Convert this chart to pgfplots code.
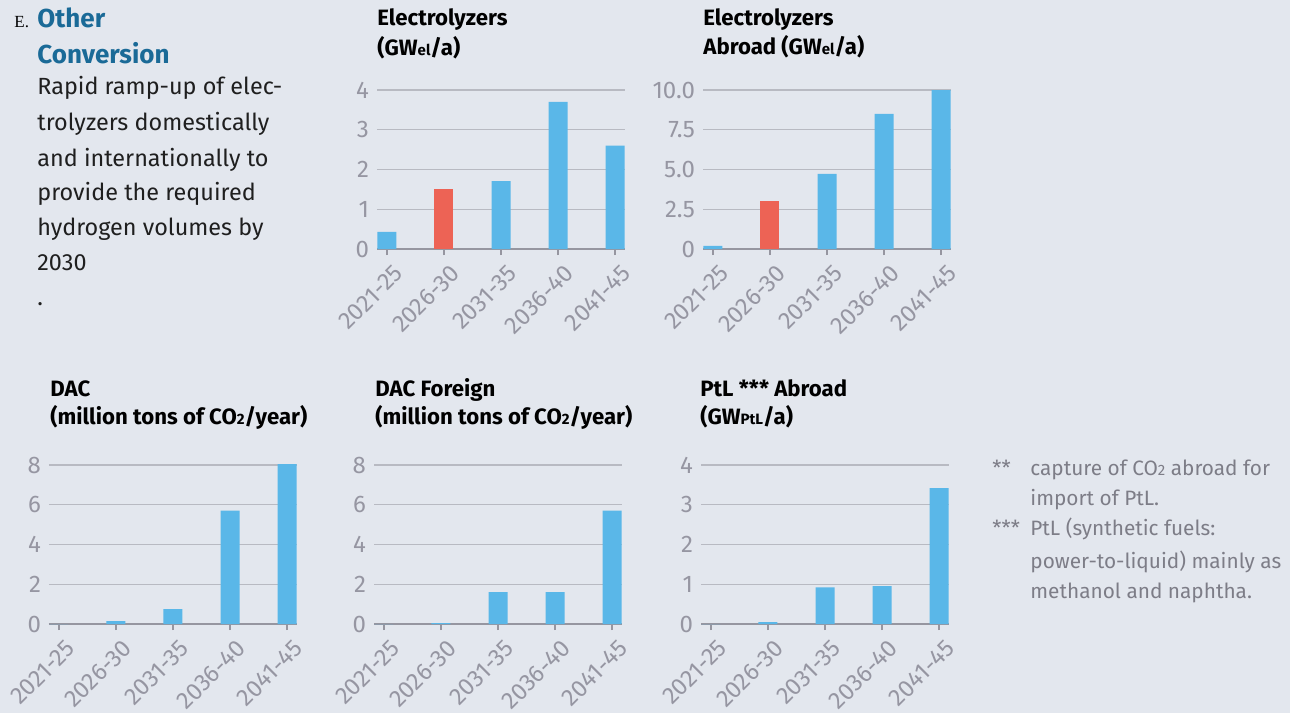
\documentclass[border=0pt]{standalone}
\usepackage{pgfplots}
\pgfplotsset{compat=1.18}
\usepackage{fontspec}
\setmainfont{Fira Sans}
\newfontfamily\serifE{Liberation Serif}

\definecolor{bg}{RGB}{227,231,238}
\definecolor{barblue}{RGB}{90,183,232}
\definecolor{barred}{RGB}{237,99,85}
\definecolor{gridgray}{RGB}{184,186,194}
\definecolor{axisgray}{RGB}{150,150,160}
\definecolor{labelgray}{RGB}{150,150,162}
\definecolor{headblue}{RGB}{26,106,151}
\definecolor{notegray}{RGB}{125,125,135}

\newcommand\sub[1]{{\fontsize{7.5}{7.5}\selectfont #1}}

\pgfplotsset{
  minibar/.style={
    scale only axis, width=124pt, height=79.5pt,
    anchor=north west,
    xmin=-0.175, xmax=4.175, ymin=0,
    xtick={0,1,2,3,4},
    xticklabels={2021-25,2026-30,2031-35,2036-40,2041-45},
    axis x line*=bottom, axis y line*=left,
    y axis line style={draw=none},
    x axis line style={draw=axisgray, line width=0.7pt},
    ytick style={draw=none},
    xtick style={draw=axisgray, line width=0.7pt},
    tick align=outside,
    major tick length=3pt,
    ymajorgrids, grid style={gridgray, line width=0.7pt},
    tick label style={font=\fontsize{12}{13}\selectfont, text=labelgray},
    yticklabel style={xshift=2.5pt},
    xticklabel style={rotate=45, anchor=north east, xshift=2.5pt, yshift=-1.5pt},
    clip=false,
  },
  bluebar/.style={ybar, bar width=9.5pt, bar shift=0pt, fill=barblue, draw=none},
  redbar/.style={ybar, bar width=9.5pt, bar shift=0pt, fill=barred, draw=none},
}

\begin{document}
\begin{tikzpicture}
\fill[bg] (0,0) rectangle (645pt,-356.5pt);
\useasboundingbox (0,0) rectangle (645pt,-356.5pt);

% left text, footnotes and chart titles (pixel grid of the reference)
\begin{scope}[x=0.5pt, y=-0.5pt]
  \node[anchor=base west, inner sep=0] at (14,27) {\serifE\fontsize{8.5}{9}\selectfont E.};
  \begin{scope}[every node/.style={anchor=base west, inner sep=0, font=\fontsize{13}{15}\selectfont\bfseries, text=headblue}]
    \node at (37,27) {Other};
    \node at (37,63) {Conversion};
  \end{scope}
  \begin{scope}[every node/.style={anchor=base west, inner sep=0, font=\fontsize{11.7}{13}\selectfont, text=black!88}]
    \node at (37,94) {Rapid ramp-up of elec-};
    \node at (37,130) {trolyzers domestically};
    \node at (37,166) {and internationally to};
    \node at (37,200) {provide the required};
    \node at (37,235) {hydrogen volumes by};
    \node at (37,270) {2030};
    \node at (37,305) {.};
  \end{scope}
  \begin{scope}[every node/.style={anchor=base west, inner sep=0, font=\fontsize{11.1}{13}\selectfont\bfseries, text=black}]
    \node at (377,25) {Electrolyzers};
    \node at (377,55) {(GW\sub{el}/a)};
    \node at (703,25) {Electrolyzers};
    \node at (703,54) {Abroad (GW\sub{el}/a)};
    \node at (50,396) {DAC};
    \node at (50,424) {(million tons of CO\sub{2}/year)};
    \node at (375,396) {DAC Foreign};
    \node at (375,424) {(million tons of CO\sub{2}/year)};
    \node at (700,396) {PtL *** Abroad};
    \node at (700,424) {(GW\sub{PtL}/a)};
  \end{scope}
  \begin{scope}[every node/.style={anchor=base west, inner sep=0, font=\fontsize{10.4}{12}\selectfont, text=notegray}]
    \node at (992,475) {**};
    \node at (1030,475) {capture of CO\sub{2} abroad for};
    \node at (1030,505) {import of PtL.};
    \node at (992,535) {***};
    \node at (1030,535) {PtL (synthetic fuels:};
    \node at (1030,568) {power-to-liquid) mainly as};
    \node at (1030,598) {methanol and naphtha.};
  \end{scope}
\end{scope}

% Electrolyzers
\begin{axis}[minibar, at={(188.5pt,-45pt)}, ymax=4,
  ytick={0,1,2,3,4}, yticklabels={0,1,2,3,4}]
\addplot[bluebar] coordinates {(0,0.43) (2,1.71) (3,3.7) (4,2.6)};
\addplot[redbar] coordinates {(1,1.5)};
\end{axis}

% Electrolyzers abroad
\begin{axis}[minibar, at={(351.5pt,-45pt)}, ymax=10,
  ytick={0,2.5,5,7.5,10}, yticklabels={0,2.5,5.0,7.5,10.0}]
\addplot[bluebar] coordinates {(0,0.2) (2,4.72) (3,8.5) (4,10)};
\addplot[redbar] coordinates {(1,3.0)};
\end{axis}

% DAC
\begin{axis}[minibar, at={(24.5pt,-232.5pt)}, ymax=8,
  ytick={0,2,4,6,8}, yticklabels={0,2,4,6,8}]
\addplot[bluebar] coordinates {(0,0) (1,0.15) (2,0.75) (3,5.7) (4,8.05)};
\end{axis}

% DAC foreign
\begin{axis}[minibar, at={(187pt,-232.5pt)}, ymax=8,
  ytick={0,2,4,6,8}, yticklabels={0,2,4,6,8}]
\addplot[bluebar] coordinates {(0,0) (1,0.05) (2,1.6) (3,1.6) (4,5.7)};
\end{axis}

% PtL abroad
\begin{axis}[minibar, at={(350.5pt,-232.5pt)}, ymax=4,
  ytick={0,1,2,3,4}, yticklabels={0,1,2,3,4}]
\addplot[bluebar] coordinates {(0,0) (1,0.05) (2,0.92) (3,0.95) (4,3.42)};
\end{axis}
\end{tikzpicture}
\end{document}
